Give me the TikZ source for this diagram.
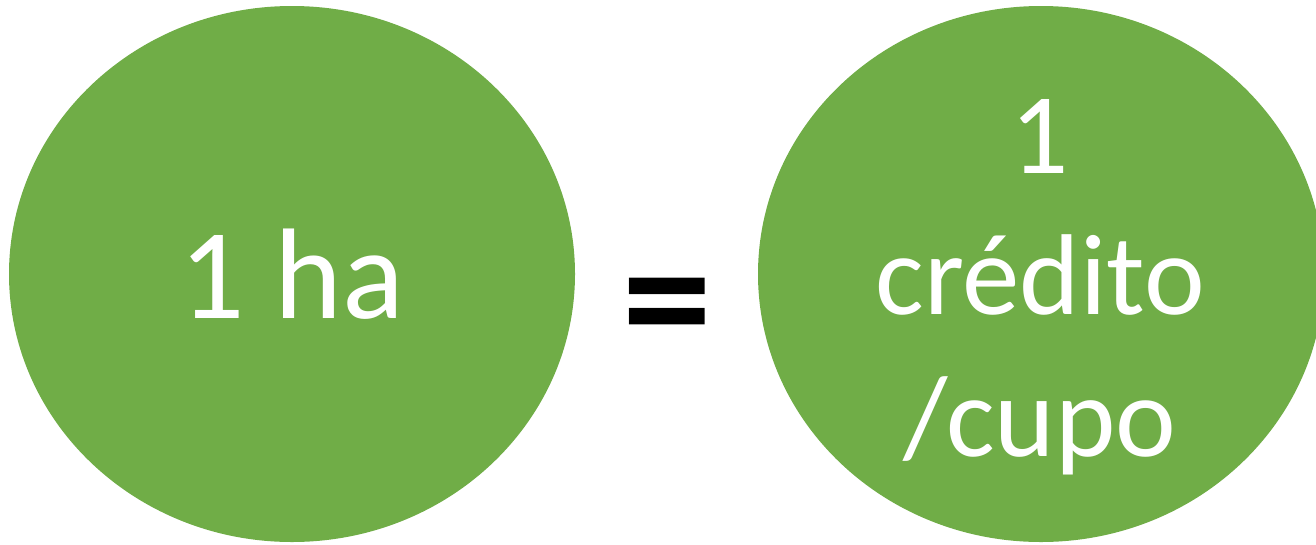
\documentclass[tikz,border=0pt]{standalone}
\usepackage{fontspec}
\setmainfont{Carlito}
\usetikzlibrary{shapes.geometric}
\definecolor{areagreen}{HTML}{70AD47}
\tikzset{
  blob/.style={ellipse, fill=areagreen, minimum width=566pt, minimum height=536pt,
    inner sep=0pt, text=white, align=center},
}

\begin{document}
\begin{tikzpicture}[x=1pt,y=-1pt]
    \useasboundingbox (0,0) rectangle (1316,544);
    % Flaeche = Zertifikat
    \node[blob, font=\fontsize{129}{150}\selectfont] (ha) at (292,274) {1 ha};
    \node[blob] (credito) at (1041,274) {};
    \node[text=white, align=center, font=\fontsize{115}{141.5}\selectfont, inner sep=0pt] (creditotxt) at (1040,287) {1\\crédito\\/cupo};
    \node[font=\bfseries\fontsize{180}{180}\selectfont, inner sep=0pt] (eq) at (667,318) {=};
\end{tikzpicture}
\end{document}
